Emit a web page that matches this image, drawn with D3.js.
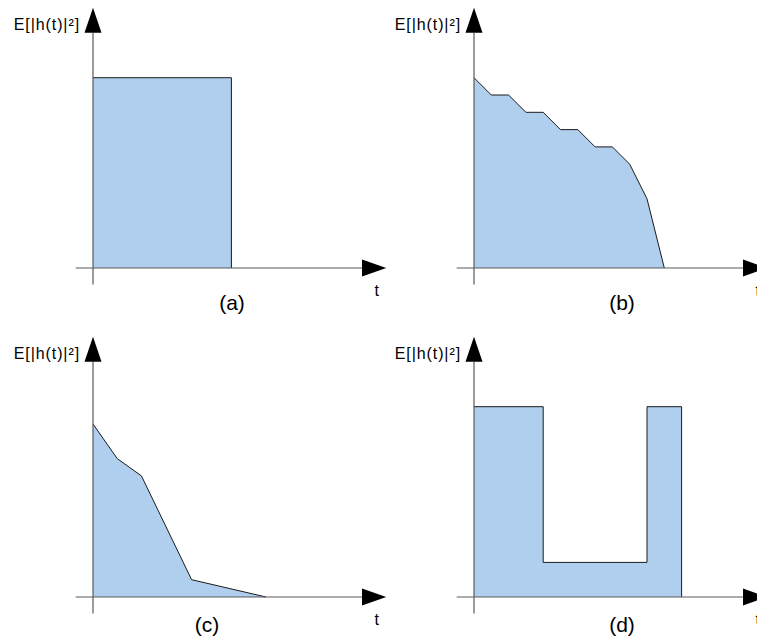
<!DOCTYPE html>
<html lang="en">
<head>
<meta charset="utf-8">
<title>Power delay profiles</title>
<script src="https://cdn.jsdelivr.net/npm/d3@7"></script>
<style>
  html, body { margin: 0; padding: 0; background: #fff; overflow: hidden; }
  .ylab { font-family: 'Liberation Sans', Arial, sans-serif; font-size: 16px; letter-spacing: 0.9px; fill: #000; text-anchor: end; }
  .tlab { font-family: 'Liberation Sans', Arial, sans-serif; font-size: 16px; fill: #000; text-anchor: middle; }
  .plab { font-family: 'Liberation Sans', Arial, sans-serif; font-size: 21px; fill: #000; text-anchor: middle; }
</style>
</head>
<body>
<div id="chart"></div>
<script>
// profile shapes, in grid units (t, E[|h(t)|^2])
var profileA = [[0, 0], [0, 11], [8, 11], [8, 0]];
var profileB = [[0, 0], [0, 11], [1, 10], [2, 10], [3, 9], [4, 9], [5, 8], [6, 8],
                [7, 7], [8, 7], [9, 6], [10, 4], [11, 0]];
var profileC = [[0, 0], [0, 10], [1.4, 8], [2.8, 7], [5.7, 1], [10, 0]];
var profileD = [[0, 0], [0, 11], [4, 11], [4, 2], [10, 2], [10, 11], [12, 11], [12, 0]];

var panelNames = ["(a)", "(b)", "(c)", "(d)"];
var yTitle = "E[|h(t)|\u00b2]";
var xTitle = "t";

var w = 757, h = 637;
var unit = 17.3;

// where each panel's axes cross
var panels = [
  {data: profileA, ox: 93,  oy: 268, name: panelNames[0], lx: 232, ly: 310},
  {data: profileB, ox: 474, oy: 268, name: panelNames[1], lx: 622, ly: 310},
  {data: profileC, ox: 93,  oy: 597, name: panelNames[2], lx: 207, ly: 632},
  {data: profileD, ox: 474, oy: 597, name: panelNames[3], lx: 622, ly: 632}
];

var svg = d3.select("#chart").append("svg")
  .attr("width", w)
  .attr("height", h);

panels.forEach(function(p) {
  var x = d3.scaleLinear().domain([0, 17]).range([p.ox, p.ox + 17 * unit]);
  var y = d3.scaleLinear().domain([0, 15]).range([p.oy, p.oy - 15 * unit]);

  var g = svg.append("g");

  // the filled profile
  var line = d3.line()
    .x(function(d) { return x(d[0]); })
    .y(function(d) { return y(d[1]); });
  g.append("path")
    .attr("d", line(p.data) + "Z")
    .attr("fill", "#b0cfee")
    .attr("stroke", "none");
  g.append("path")
    .attr("d", line(p.data.slice(1)))
    .attr("fill", "none")
    .attr("stroke", "#1a1a1a")
    .attr("stroke-width", 1);

  // axes
  g.append("line")
    .attr("x1", x(-1)).attr("x2", x(15.6))
    .attr("y1", y(0)).attr("y2", y(0))
    .attr("stroke", "#5a5a5a").attr("stroke-width", 1.2);
  g.append("line")
    .attr("x1", x(0)).attr("x2", x(0))
    .attr("y1", y(-0.95)).attr("y2", y(13.6))
    .attr("stroke", "#5a5a5a").attr("stroke-width", 1.2);

  // arrow heads
  g.append("path")
    .attr("d", "M" + x(15.55) + "," + (y(0) - 8.5) + "L" + x(16.95) + "," + y(0) +
               "L" + x(15.55) + "," + (y(0) + 8.5) + "Z")
    .attr("fill", "#000");
  g.append("path")
    .attr("d", "M" + (x(0) - 8.5) + "," + y(13.6) + "L" + x(0) + "," + y(15.05) +
               "L" + (x(0) + 8.5) + "," + y(13.6) + "Z")
    .attr("fill", "#000");

  // labels
  g.append("text")
    .attr("class", "ylab")
    .attr("x", x(0) - 13)
    .attr("y", y(0) - 238)
    .text(yTitle);
  g.append("text")
    .attr("class", "tlab")
    .attr("x", x(16.4))
    .attr("y", y(0) + 28)
    .text(xTitle);
  g.append("text")
    .attr("class", "plab")
    .attr("x", p.lx)
    .attr("y", p.ly)
    .text(p.name);
});
</script>
</body>
</html>
